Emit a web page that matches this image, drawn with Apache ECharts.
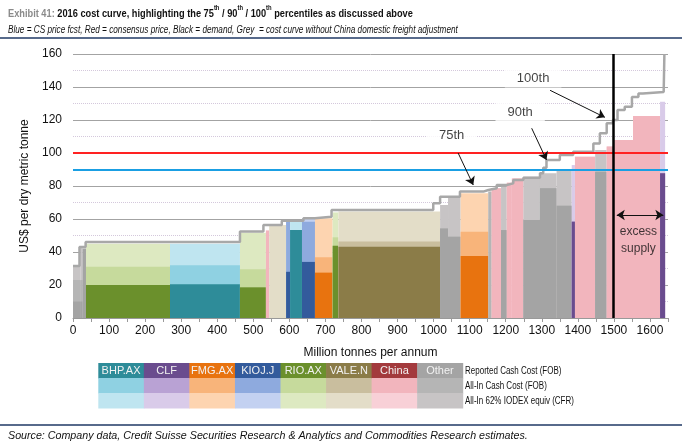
<!DOCTYPE html>
<html>
<head>
<meta charset="utf-8">
<script src="https://cdn.jsdelivr.net/npm/echarts@6/dist/echarts.min.js"></script>
<style>
  html, body { margin: 0; padding: 0; background: #fff; }
  #chart { width: 682px; height: 445px; }
</style>
</head>
<body>
<div id="chart"></div>
<script>
// producers, in legend order
var producers = ['BHP.AX', 'CLF', 'FMG.AX', 'KIOJ.J', 'RIO.AX', 'VALE.N', 'China', 'Other'];
var costLevels = ['Reported Cash Cost (FOB)', 'All-In Cash Cost (FOB)', 'All-In 62% IODEX equiv (CFR)'];

// cost curve segments (Mtpa width, producer, US$/dmt)
var segWidth = [20, 7, 9, 233, 194, 72, 9, 47, 11, 33, 36, 49, 16, 282, 22, 35, 77, 9, 26, 16, 14, 32, 46, 46, 42, 9, 56, 32, 18, 55, 75, 14];
var segProducer = ['Other', 'Other', 'Other', 'RIO.AX', 'BHP.AX', 'RIO.AX', 'China', 'VALE.N', 'KIOJ.J', 'BHP.AX', 'KIOJ.J', 'FMG.AX', 'RIO.AX', 'VALE.N', 'Other', 'Other', 'FMG.AX', 'Other', 'China', 'Other', 'China', 'China', 'Other', 'Other', 'Other', 'CLF', 'China', 'Other', 'China', 'China', 'China', 'CLF'];
var reportedCost = [10, 10, 42, 20, 20.4, 18.6, 0, 0, 28, 53.3, 34, 27.5, 43.8, 43.2, 54.3, 49.3, 37.6, 0, 0, 53.3, 0, 0, 59.4, 78.6, 68, 58.4, 0, 88.7, 0, 0, 0, 87.7];
var allInCost = [23, 23, 42, 31, 32, 29.5, 53, 0, 58.4, 53.3, 58.4, 36.8, 48.9, 46.3, 54.3, 49.3, 52.3, 76.6, 78.6, 53.3, 82, 84.6, 59.4, 78.6, 68, 58.4, 97.8, 88.7, 104, 107.9, 122.4, 87.7];
var cfrCost = [31.5, 43, 42, 45, 45, 51.7, 53, 56.4, 58.4, 59, 60.5, 60.4, 64, 64.6, 68.5, 73.7, 75.6, 76.6, 78.6, 79.6, 82, 84.6, 85.6, 87.7, 90, 92.7, 97.8, 101.8, 104, 107.9, 122.4, 131];

// grey curve without China domestic freight adjustment (step starts)
var curveX = [0, 18, 35, 463, 528, 579, 639, 671, 717, 999, 1018, 1073, 1138, 1152, 1175, 1203, 1221, 1249, 1295, 1304, 1313, 1350, 1387, 1443, 1461, 1480, 1497, 1510, 1530, 1550, 1568, 1580, 1638, 1640];
var curveY = [31.5, 43, 46, 52.5, 56.4, 59, 60.4, 61.4, 65.5, 69.5, 73.5, 76.6, 77.6, 78.6, 80.6, 81.6, 83.6, 85, 87.7, 91, 95.8, 98.8, 100.8, 105.8, 112, 118, 120, 126, 128, 134, 136, 137, 138, 160];

var csPrice = 90;
var consensusPrice = 100;
var demand = 1497;

// percentile call-outs: label at [x, y], arrow from -> to
var pctLabels = ['75th', '90th', '100th'];
var pctLabelX = [1050, 1240, 1276];
var pctLabelY = [110.5, 124.8, 145.5];
var pctArrowFrom = [[1068, 100], [1272, 115], [1323, 138]];
var pctArrowTo = [[1110, 80.6], [1313, 95.8], [1475, 121.6]];

// colours: [reported, all-in, cfr]
var palette = {
  'BHP.AX': ['#2e8c99', '#8fd1e2', '#bfe5f0'],
  'CLF':    ['#6a4c8e', '#b9a2d4', '#d9cbe9'],
  'FMG.AX': ['#e8730f', '#f8b47a', '#fdd4b0'],
  'KIOJ.J': ['#335b9c', '#8eaade', '#c3d1f1'],
  'RIO.AX': ['#6b902c', '#c6da9c', '#dde9c1'],
  'VALE.N': ['#8b7c48', '#c9be9e', '#e3ddc8'],
  'China':  ['#a33a3d', '#f2b5bd', '#f8d0d7'],
  'Other':  ['#a4a4a4', '#b5b5b5', '#c7c4c5']
};

var segData = [];
var x = 0;
for (var i = 0; i < segWidth.length; i++) {
  segData.push([x, x + segWidth[i], reportedCost[i], allInCost[i], cfrCost[i], producers.indexOf(segProducer[i])]);
  x += segWidth[i];
}
var curveData = curveX.map(function (v, i) { return [v, curveY[i]]; });
var labelData = pctLabels.map(function (t, i) { return { name: t, value: [pctLabelX[i], pctLabelY[i]] }; });

function renderSeg(params, api) {
  var x0 = api.value(0), x1 = api.value(1);
  var cols = palette[producers[api.value(5)]];
  var tops = [api.value(4), api.value(3), api.value(2)];
  var fills = [cols[2], cols[1], cols[0]];
  var kids = [];
  tops.forEach(function (v, k) {
    if (v <= 0) return;
    var tl = api.coord([x0, v]);
    var br = api.coord([x1, 0]);
    kids.push({ type: 'rect', shape: { x: tl[0], y: tl[1], width: br[0] - tl[0], height: br[1] - tl[1] }, style: { fill: fills[k] } });
  });
  return { type: 'group', children: kids };
}

var arrowLines = pctArrowFrom.map(function (p, i) {
  return [{ coord: p }, { coord: pctArrowTo[i], symbol: 'arrow' }];
});

// legend table
var gfx = [];
var colW = 45.55, tblX = 98.3, rowY = [363, 378, 393], rowH = 15;
producers.forEach(function (p, i) {
  for (var r = 0; r < 3; r++) {
    gfx.push({ type: 'rect', shape: { x: tblX + i * colW, y: rowY[r], width: colW + 0.5, height: rowH + 0.5 }, style: { fill: palette[p][r] }, silent: true });
  }
  gfx.push({ type: 'text', x: tblX + i * colW + colW / 2, y: rowY[0] + rowH / 2 + 0.5, style: { text: p, fill: '#f2f2f2', font: '11px "Liberation Sans", Arial, sans-serif', align: 'center', verticalAlign: 'middle' } });
});
costLevels.forEach(function (t, r) {
  gfx.push({ type: 'text', x: 465, y: rowY[r] + rowH / 2 + 0.5, scaleX: 0.8, style: { text: t, fill: '#111', font: '10px "Liberation Sans", Arial, sans-serif', verticalAlign: 'middle' } });
});
// header / footer
gfx.push({ type: 'text', x: 8, y: 12, scaleX: 0.84, style: {
  text: '{g|Exhibit 41: }{b|2016 cost curve, highlighting the 75}{s|th}{b| / 90}{s|th}{b| / 100}{s|th}{b| percentiles as discussed above}',
  verticalAlign: 'middle',
  rich: {
    g: { font: 'bold 11px "Liberation Sans", Arial, sans-serif', fill: '#8a8a8a', lineHeight: 14, verticalAlign: 'bottom' },
    b: { font: 'bold 11px "Liberation Sans", Arial, sans-serif', fill: '#111', lineHeight: 14, verticalAlign: 'bottom' },
    s: { font: 'bold 7px "Liberation Sans", Arial, sans-serif', fill: '#111', lineHeight: 14, verticalAlign: 'top' }
  }
} });
gfx.push({ type: 'text', x: 8, y: 30, scaleX: 0.82, style: { text: 'Blue = CS price fcst, Red = consensus price, Black = demand, Grey  = cost curve without China domestic freight adjustment', fill: '#111', font: 'italic 10px "Liberation Sans", Arial, sans-serif', verticalAlign: 'middle' } });
gfx.push({ type: 'line', shape: { x1: 0, y1: 38, x2: 682, y2: 38 }, style: { stroke: '#1f3864', lineWidth: 1.5 } });
gfx.push({ type: 'line', shape: { x1: 0, y1: 425, x2: 682, y2: 425 }, style: { stroke: '#1f3864', lineWidth: 1.5 } });
gfx.push({ type: 'text', x: 8, y: 436, style: { text: 'Source: Company data, Credit Suisse Securities Research & Analytics and Commodities Research estimates.', fill: '#111', font: 'italic 10.7px "Liberation Sans", Arial, sans-serif', verticalAlign: 'middle' } });

var chart = echarts.init(document.getElementById('chart'));
var option = {
  animation: false,
  textStyle: { fontFamily: '"Liberation Sans", Arial, sans-serif' },
  grid: { left: 73, right: 14, top: 54, bottom: 127 },
  xAxis: {
    type: 'value', min: 0, max: 1650, interval: 50,
    name: 'Million tonnes per annum', nameLocation: 'middle', nameGap: 29,
    nameTextStyle: { fontSize: 12, color: '#111' },
    axisLine: { lineStyle: { color: '#999' } },
    axisTick: { length: 4, lineStyle: { color: '#999' } },
    axisLabel: { fontSize: 12, color: '#111', margin: 7, formatter: function (v) { return v % 100 === 0 ? v : ''; } },
    splitLine: { show: false }
  },
  yAxis: {
    type: 'value', min: 0, max: 160, interval: 20,
    name: 'US$ per dry metric tonne', nameLocation: 'middle', nameGap: 32,
    nameTextStyle: { fontSize: 12, color: '#111' },
    axisLine: { show: false }, axisTick: { show: false },
    axisLabel: { fontSize: 12, color: '#111', margin: 11 },
    splitLine: { lineStyle: { color: '#a3a3a3', width: 1 } },
    minorTick: { show: false, splitNumber: 2 },
    minorSplitLine: { show: true, lineStyle: { color: '#d4c8dc', type: 'dotted', width: 1 } }
  },
  graphic: gfx,
  series: [
    {
      type: 'custom', renderItem: renderSeg, data: segData, z: 2,
      encode: { x: [0, 1], y: [4] }, silent: true
    },
    {
      type: 'line', data: curveData, step: 'end', showSymbol: false, z: 3, silent: true,
      lineStyle: { color: '#a8a8a8', width: 2.5 },
      markLine: {
        silent: true, symbol: 'none', symbolSize: 8, label: { show: false }, animation: false,
        data: [
          { yAxis: consensusPrice, lineStyle: { color: '#ff2222', width: 2, type: 'solid' } },
          { yAxis: csPrice, lineStyle: { color: '#1a9fe3', width: 2, type: 'solid' } },
          { xAxis: demand, lineStyle: { color: '#000', width: 2.5, type: 'solid' } }
        ].concat(arrowLines.map(function (l) {
          l[0].lineStyle = { color: '#111', width: 1, type: 'solid' };
          return l;
        })).concat([[
          { coord: [demand + 11, 62.4], symbol: 'arrow', lineStyle: { color: '#111', width: 1.2, type: 'solid' } },
          { coord: [1637, 62.4], symbol: 'arrow' }
        ]])
      }
    },
    {
      type: 'scatter', data: labelData, symbolSize: 1, z: 5, silent: true,
      itemStyle: { color: 'rgba(0,0,0,0)' },
      label: { show: true, position: 'inside', formatter: '{b}', fontSize: 13, color: '#111', backgroundColor: '#fff', padding: [3, 12] }
    },
    {
      type: 'scatter', data: [{ name: 'excess\nsupply', value: [1568, 47] }], symbolSize: 1, z: 5, silent: true,
      itemStyle: { color: 'rgba(0,0,0,0)' },
      label: { show: true, position: 'inside', formatter: '{b}', fontSize: 12, color: '#111', lineHeight: 17 }
    }
  ]
};
chart.setOption(option);
</script>
</body>
</html>
